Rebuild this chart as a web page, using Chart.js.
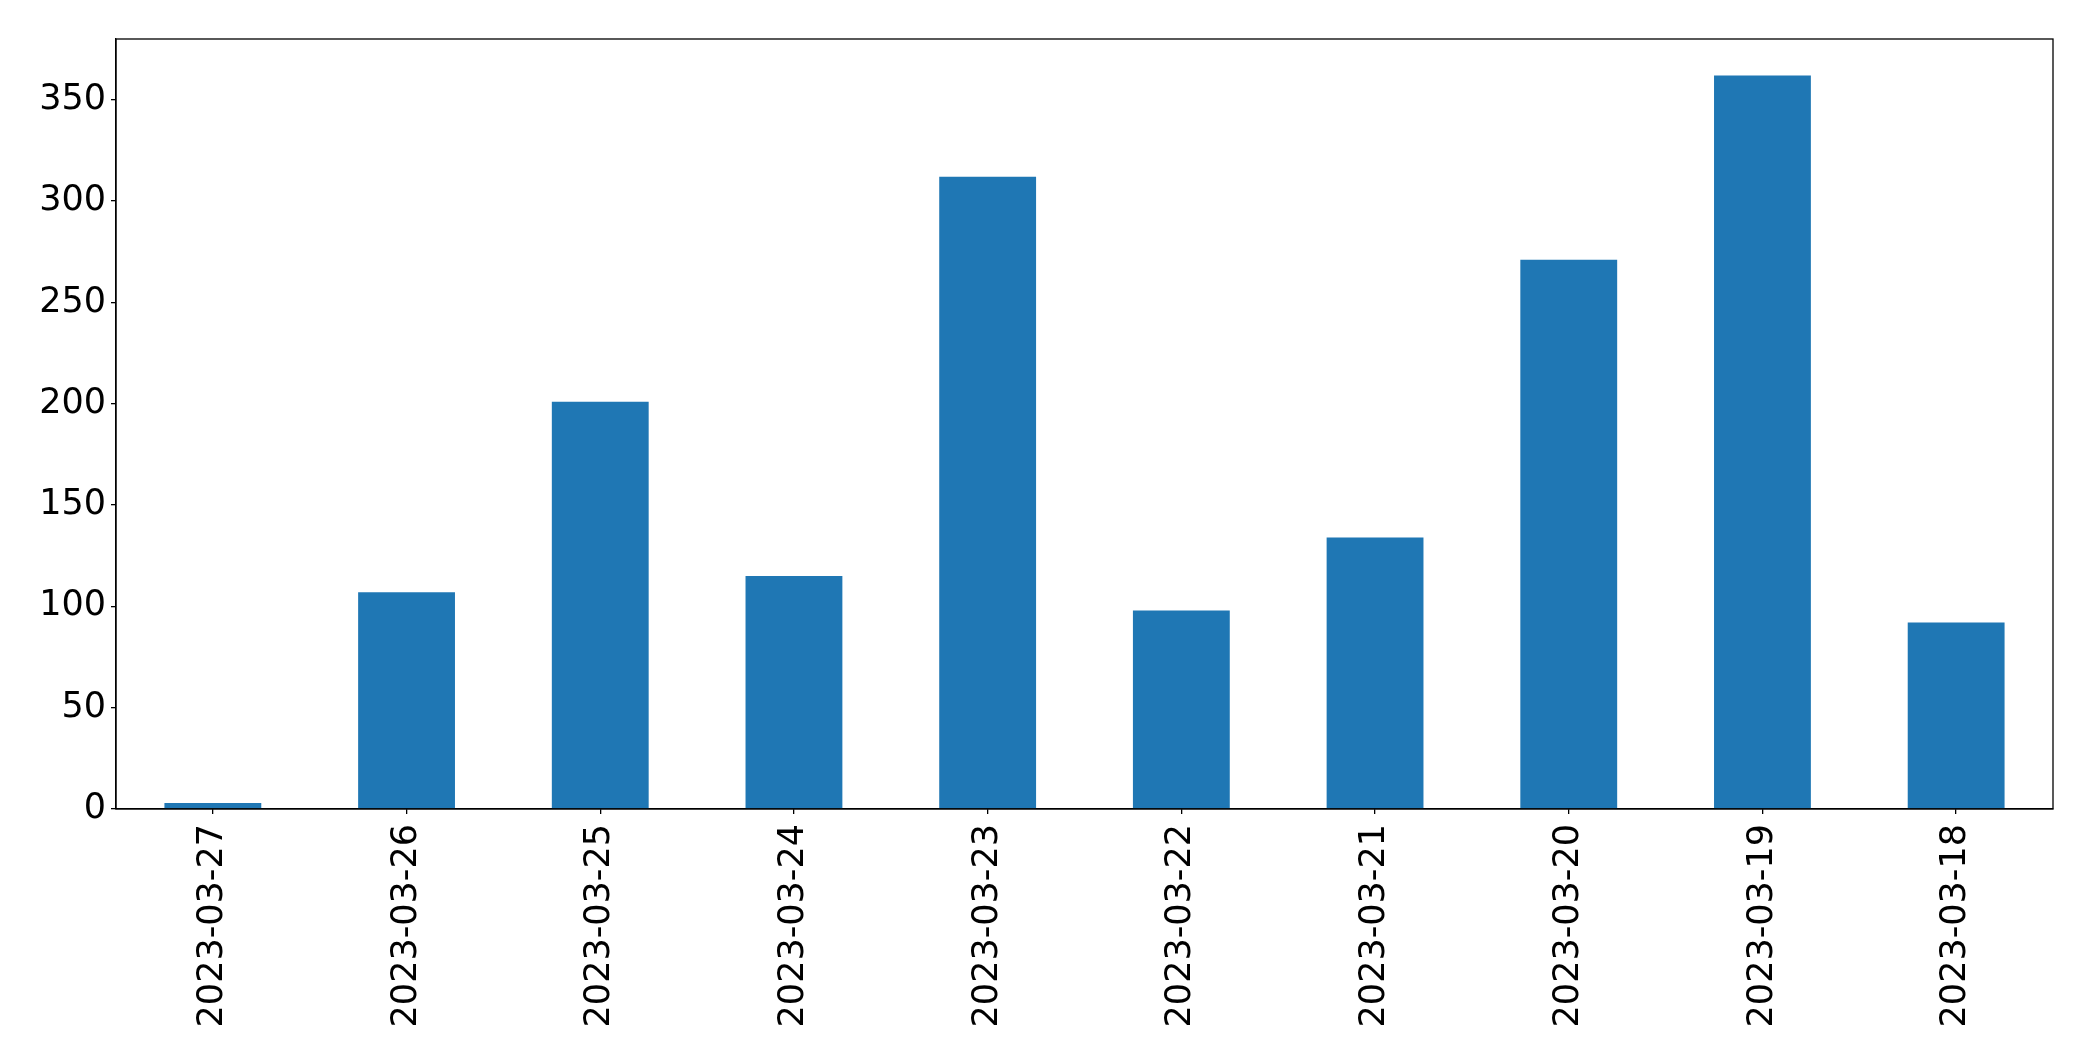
<!DOCTYPE html>
<html>
<head>
<meta charset="utf-8">
<script src="https://cdn.jsdelivr.net/npm/chart.js@4/dist/chart.umd.min.js"></script>
<style>
  html, body { margin: 0; padding: 0; background: #ffffff; }
  #wrap { width: 2093px; height: 1061px; }
</style>
</head>
<body>
<div id="wrap"><canvas id="c" width="2093" height="1061"></canvas></div>
<script>
const categories = ["2023-03-27", "2023-03-26", "2023-03-25", "2023-03-24", "2023-03-23",
                    "2023-03-22", "2023-03-21", "2023-03-20", "2023-03-19", "2023-03-18"];
const values = [3, 107, 201, 115, 312, 98, 134, 271, 362, 92];
const yTicks = [0, 50, 100, 150, 200, 250, 300, 350];
const yMax = 380;

const frame = {
  id: 'frame',
  afterDraw(chart) {
    const a = chart.chartArea, ctx = chart.ctx;
    ctx.save();
    ctx.strokeStyle = '#000';
    ctx.lineWidth = 1.3;
    ctx.strokeRect(a.left, a.top, a.right - a.left, a.bottom - a.top);
    ctx.restore();
  }
};

const font = { family: "'DejaVu Sans', sans-serif", size: 35 };

new Chart(document.getElementById('c'), {
  type: 'bar',
  data: {
    labels: categories,
    datasets: [{
      data: values,
      backgroundColor: '#1f77b4',
      borderWidth: 0,
      barPercentage: 0.5,
      categoryPercentage: 1.0
    }]
  },
  options: {
    responsive: false,
    animation: false,
    layout: { padding: { left: 0, top: 39, right: 40, bottom: 0 } },
    plugins: { legend: { display: false }, tooltip: { enabled: false } },
    scales: {
      x: {
        offset: true,
        grid: { display: true, offset: false, drawOnChartArea: false, drawTicks: true, tickLength: 5, color: '#000', lineWidth: 1.3 },
        border: { display: true, color: '#000', width: 1.3 },
        ticks: { color: '#000', font: font, minRotation: 90, maxRotation: 90, padding: 10, autoSkip: false },
        afterFit(scale) { scale.height = 252; }
      },
      y: {
        min: 0,
        max: yMax,
        grid: { display: true, drawOnChartArea: false, drawTicks: true, tickLength: 5, color: '#000', lineWidth: 1.3 },
        border: { display: true, color: '#000', width: 1.3 },
        ticks: { color: '#000', font: font, padding: 5 },
        afterBuildTicks(scale) { scale.ticks = yTicks.map(v => ({ value: v })); },
        afterFit(scale) { scale.width = 116; }
      }
    }
  },
  plugins: [frame]
});
</script>
</body>
</html>
